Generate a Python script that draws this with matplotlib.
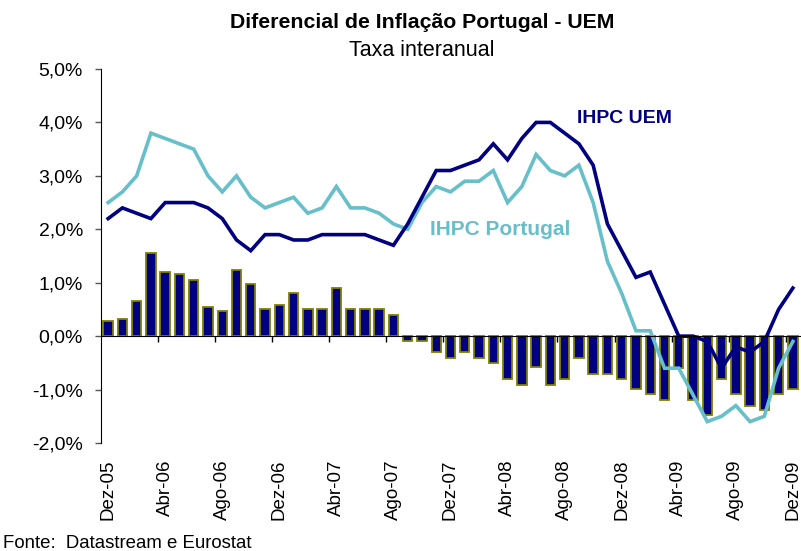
import matplotlib
matplotlib.use('Agg')
import matplotlib.pyplot as plt
import numpy as np

plt.rcParams['font.family'] = ['Liberation Sans', 'DejaVu Sans']

# meses Dez-05 .. Dez-09 (49 observações)
meses = ['Dez-05', 'Jan-06', 'Fev-06', 'Mar-06', 'Abr-06', 'Mai-06', 'Jun-06', 'Jul-06',
         'Ago-06', 'Set-06', 'Out-06', 'Nov-06', 'Dez-06', 'Jan-07', 'Fev-07', 'Mar-07',
         'Abr-07', 'Mai-07', 'Jun-07', 'Jul-07', 'Ago-07', 'Set-07', 'Out-07', 'Nov-07',
         'Dez-07', 'Jan-08', 'Fev-08', 'Mar-08', 'Abr-08', 'Mai-08', 'Jun-08', 'Jul-08',
         'Ago-08', 'Set-08', 'Out-08', 'Nov-08', 'Dez-08', 'Jan-09', 'Fev-09', 'Mar-09',
         'Abr-09', 'Mai-09', 'Jun-09', 'Jul-09', 'Ago-09', 'Set-09', 'Out-09', 'Nov-09',
         'Dez-09']

# IHPC UEM (taxa interanual, %)
ihpc_uem = [2.2, 2.4, 2.3, 2.2, 2.5, 2.5, 2.5, 2.4, 2.2, 1.8, 1.6, 1.9, 1.9,
            1.8, 1.8, 1.9, 1.9, 1.9, 1.9, 1.8, 1.7, 2.1, 2.6, 3.1, 3.1, 3.2,
            3.3, 3.6, 3.3, 3.7, 4.0, 4.0, 3.8, 3.6, 3.2, 2.1, 1.6, 1.1, 1.2,
            0.6, 0.0, 0.0, -0.1, -0.6, -0.2, -0.3, -0.1, 0.5, 0.9]

# IHPC Portugal (taxa interanual, %)
ihpc_pt = [2.5, 2.7, 3.0, 3.8, 3.7, 3.6, 3.5, 3.0, 2.7, 3.0, 2.6, 2.4, 2.5,
           2.6, 2.3, 2.4, 2.8, 2.4, 2.4, 2.3, 2.1, 2.0, 2.5, 2.8, 2.7, 2.9,
           2.9, 3.1, 2.5, 2.8, 3.4, 3.1, 3.0, 3.2, 2.5, 1.4, 0.8, 0.1, 0.1,
           -0.6, -0.6, -1.1, -1.6, -1.5, -1.3, -1.6, -1.5, -0.6, -0.1]

# diferencial Portugal - UEM (p.p.)
diferencial = [0.28, 0.32, 0.66, 1.56, 1.20, 1.17, 1.05, 0.54, 0.47, 1.23, 0.98, 0.50,
               0.58, 0.80, 0.50, 0.50, 0.90, 0.50, 0.50, 0.50, 0.39, -0.10, -0.10,
               -0.29, -0.40, -0.29, -0.40, -0.51, -0.81, -0.92, -0.57, -0.92, -0.81,
               -0.40, -0.70, -0.70, -0.81, -0.98, -1.09, -1.20, -0.60, -1.20, -1.48,
               -0.81, -1.09, -1.30, -1.38, -1.09, -0.98]

azul = '#000080'
turquesa = '#66BFC9'

fig = plt.figure(figsize=(8.01, 5.51), dpi=100)
ax = fig.add_axes([101 / 801, 1 - 443 / 551, 699 / 801, 374 / 551])

x = np.arange(len(meses))
ax.bar(x, diferencial, width=0.66, color=azul, edgecolor='#808000', linewidth=1.3, zorder=2)
ax.plot(x, ihpc_pt, color=turquesa, lw=2.6, zorder=3, solid_joinstyle='miter')
ax.plot(x, ihpc_uem, color=azul, lw=2.6, zorder=4, solid_joinstyle='miter')

ax.set_xlim(-0.5, len(meses) - 0.5)
ax.set_ylim(-2, 5)
ax.set_yticks(np.arange(-2, 6, 1))
ax.set_yticklabels([f'{v:.1f}%'.replace('.', ',') for v in np.arange(-2, 6, 1)])
ax.tick_params(axis='y', direction='out', length=4, width=1, color='#555555',
               labelsize=14, pad=9)

# eixo horizontal no zero, marcas entre categorias
for s in ['top', 'right']:
    ax.spines[s].set_visible(False)
ax.spines['bottom'].set_position(('data', 0))
ax.spines['bottom'].set_zorder(5)
ax.set_xticks(np.arange(3.5, len(meses) - 1, 4))
ax.set_xticklabels([])
ax.tick_params(axis='x', direction='out', length=4, width=1)

# etiquetas das datas em baixo
sec = ax.secondary_xaxis(location=0)
sec.set_xticks(x[::4])
sec.set_xticklabels(meses[::4], rotation=90, fontsize=13.5)
sec.tick_params(length=0, pad=12)
sec.spines['bottom'].set_visible(False)

ax.text(36.2, 4.07, 'IHPC UEM', color=azul, fontsize=14, fontweight='bold',
        ha='center', va='center')
ax.text(27.5, 2.0, 'IHPC Portugal', color=turquesa, fontsize=15, fontweight='bold',
        ha='center', va='center')

fig.text(0.527, 1 - 22 / 551, 'Diferencial de Inflação Portugal - UEM', fontsize=15.3,
         fontweight='bold', ha='center', va='center')
fig.text(0.527, 1 - 50 / 551, 'Taxa interanual', fontsize=15.5, ha='center', va='center')
fig.text(3 / 801, 1 - 543 / 551, 'Fonte:  Datastream e Eurostat', fontsize=13.4,
         ha='left', va='center')

fig.savefig('out.png', dpi=100)
